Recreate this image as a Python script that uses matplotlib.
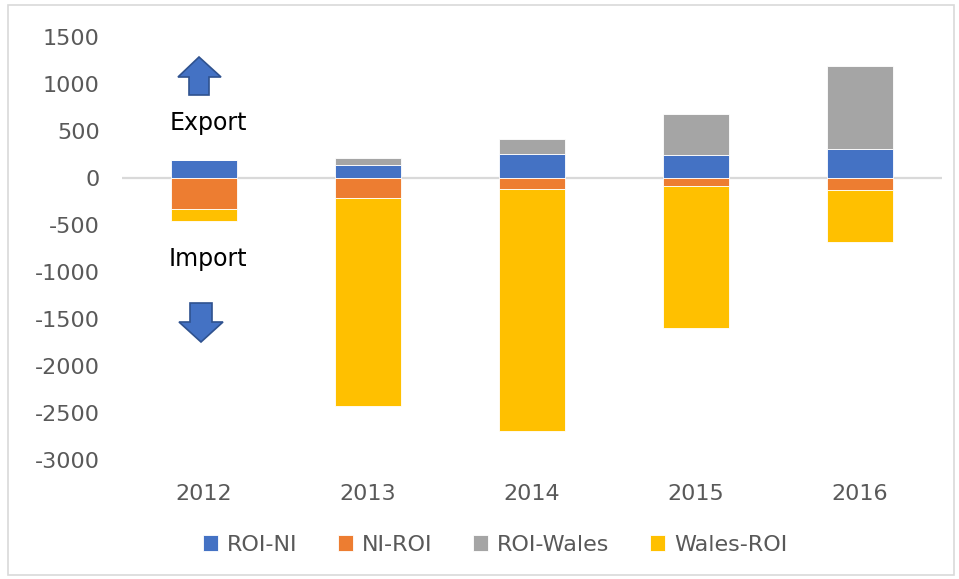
import numpy as np
import matplotlib
matplotlib.use("Agg")
import matplotlib.pyplot as plt
from matplotlib.patches import Polygon, Rectangle

plt.rcParams["axes.unicode_minus"] = False

# values (imports negative)
years = ["2012", "2013", "2014", "2015", "2016"]
roi_ni = [190, 140, 255, 245, 310]
roi_wales = [0, 75, 160, 436, 883]
ni_roi = [-330, -210, -117, -85, -128]
wales_roi = [-125, -2215, -2573, -1510, -553]

series_names = ["ROI-NI", "NI-ROI", "ROI-Wales", "Wales-ROI"]
colors = ["#4472C4", "#ED7D31", "#A5A5A5", "#FFC000"]
text_gray = "#595959"

W, H = 959, 579
fig = plt.figure(figsize=(W / 100, H / 100), dpi=100)
ax = fig.add_axes([122 / W, 1 - 460 / H, (942 - 122) / W, (460 - 37) / H])

x = np.arange(len(years))
bw = 0.4
kw = dict(width=bw, edgecolor="white", linewidth=0.6, zorder=3)
b1 = ax.bar(x, roi_ni, color=colors[0], **kw)
b3 = ax.bar(x, roi_wales, bottom=roi_ni, color=colors[2], **kw)
b2 = ax.bar(x, ni_roi, color=colors[1], **kw)
b4 = ax.bar(x, wales_roi, bottom=ni_roi, color=colors[3], **kw)

ax.axhline(0, color="#D9D9D9", linewidth=1.6, zorder=2)
ax.set_xlim(-0.5, len(years) - 0.5)
ax.set_ylim(-3000, 1500)
ax.set_yticks(np.arange(-3000, 1501, 500))
ax.set_xticks(x)
ax.set_xticklabels(years)
ax.tick_params(axis="both", length=0, labelsize=16, labelcolor=text_gray)
ax.tick_params(axis="y", pad=16)
ax.tick_params(axis="x", pad=17)
for s in ax.spines.values():
    s.set_visible(False)

# Export / Import annotations
fig.text(208 / W, 1 - 123 / H, "Export", ha="center", va="center", fontsize=17, color="black")
fig.text(208 / W, 1 - 259 / H, "Import", ha="center", va="center", fontsize=17, color="black")


def px(pts):
    return [(a / W, 1 - b / H) for a, b in pts]


up = [(199, 57), (221, 77), (209, 77), (209, 95), (189, 95), (189, 77), (178, 77)]
down = [(201, 342), (223, 322), (212, 322), (212, 303), (190, 303), (190, 322), (179, 322)]
for shape in (up, down):
    fig.patches.append(Polygon(px(shape), closed=True, transform=fig.transFigure,
                               facecolor="#4472C4", edgecolor="#2F528F", linewidth=1.2))

# outer chart border
fig.patches.append(Rectangle((8 / W, 4 / H), (954 - 8) / W, (574 - 4) / H,
                             transform=fig.transFigure, fill=False,
                             edgecolor="#D9D9D9", linewidth=1.2))

leg = fig.legend([b1, b2, b3, b4], series_names, loc="center", ncol=4,
                 bbox_to_anchor=(495 / W, 1 - 545 / H), frameon=False,
                 fontsize=16, handlelength=0.7, handleheight=0.7,
                 handletextpad=0.4, columnspacing=1.8)
for t in leg.get_texts():
    t.set_color(text_gray)

fig.savefig("out.png", dpi=100)
